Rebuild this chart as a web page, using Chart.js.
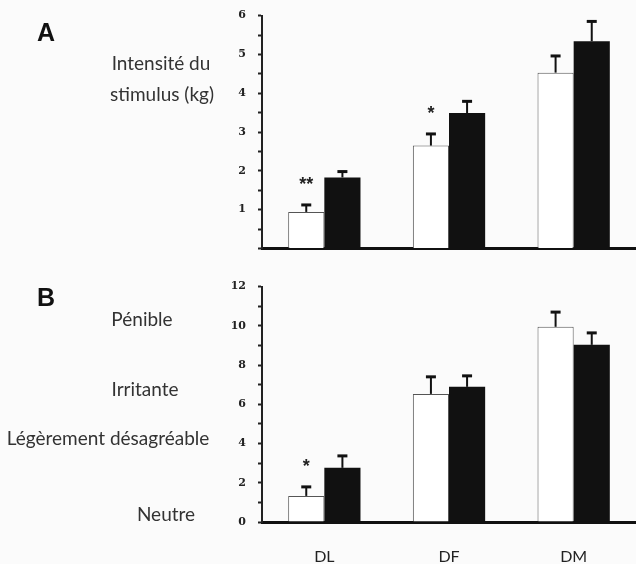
<!DOCTYPE html>
<html>
<head>
<meta charset="utf-8">
<script src="https://cdn.jsdelivr.net/npm/chart.js@4"></script>
<style>
  body { margin: 0; background: #fbfbfb; }
  #wrap { position: relative; width: 636px; height: 564px; background: #fbfbfb; overflow: hidden; }
  .box { position: absolute; left: 0; width: 636px; }
  .lbl { position: absolute; transform: translate(-50%, -50%); font-family: Lato, "Open Sans", sans-serif; font-size: 19px; color: #333; white-space: nowrap; line-height: 1; }
  .panel { position: absolute; transform: translate(-50%, -50%); font-family: "Liberation Sans", Arial, sans-serif; font-weight: bold; font-size: 25px; color: #111; line-height: 1; }
</style>
</head>
<body>
<div id="wrap">
  <div class="box" style="top:-3px;height:270px"><canvas id="chartA"></canvas></div>
  <div class="box" style="top:268px;height:296px"><canvas id="chartB"></canvas></div>

  <div class="panel" style="left:46px;top:32px">A</div>
  <div class="lbl" style="left:161px;top:62px">Intensité du</div>
  <div class="lbl" style="left:162px;top:93px">stimulus (kg)</div>

  <div class="panel" style="left:46px;top:297px">B</div>
  <div class="lbl" style="left:142px;top:318px">Pénible</div>
  <div class="lbl" style="left:145px;top:388px">Irritante</div>
  <div class="lbl" style="left:108px;top:437px">Légèrement désagréable</div>
  <div class="lbl" style="left:166px;top:513px">Neutre</div>
</div>
<script>
// categories
var categories = ['DL', 'DF', 'DM'];

// A : intensité du stimulus (kg)
var intensiteBlanc = [0.94, 2.65, 4.53];
var intensiteBlancErr = [0.18, 0.30, 0.43];
var intensiteNoir = [1.83, 3.49, 5.34];
var intensiteNoirErr = [0.15, 0.30, 0.51];
var signifA = ['**', '*', ''];

// B : évaluation de la douleur
var douleurBlanc = [1.33, 6.53, 9.95];
var douleurBlancErr = [0.46, 0.87, 0.75];
var douleurNoir = [2.76, 6.89, 9.03];
var douleurNoirErr = [0.61, 0.56, 0.61];
var signifB = ['*', '', ''];

var ticksA = { max: 6, step: 0.5 };
var ticksB = { max: 12, step: 1 };

// barres d'erreur + astérisques
var errorBars = {
    id: 'errorBars',
    afterDatasetsDraw: function(chart) {
        var ctx = chart.ctx;
        var y = chart.scales.y;
        chart.data.datasets.forEach(function(ds, i) {
            var meta = chart.getDatasetMeta(i);
            meta.data.forEach(function(bar, j) {
                var top = y.getPixelForValue(ds.data[j] + ds.errors[j]);
                ctx.save();
                ctx.strokeStyle = '#111';
                ctx.lineWidth = 2;
                ctx.beginPath();
                ctx.moveTo(bar.x, bar.y);
                ctx.lineTo(bar.x, top);
                ctx.stroke();
                ctx.lineWidth = 3;
                ctx.beginPath();
                ctx.moveTo(bar.x - 5, top);
                ctx.lineTo(bar.x + 5, top);
                ctx.stroke();
                if (ds.stars && ds.stars[j]) {
                    ctx.fillStyle = '#222';
                    ctx.font = 'bold 18px "Liberation Sans", Arial';
                    ctx.textAlign = 'center';
                    ctx.textBaseline = 'middle';
                    ctx.fillText(ds.stars[j], bar.x, top - 20);
                }
                ctx.restore();
            });
        });
    }
};

function makeChart(id, blanc, blancErr, noir, noirErr, stars, tk, showX) {
    var ctx = document.getElementById(id).getContext('2d');
    return new Chart(ctx, {
        type: 'bar',
        data: {
            labels: categories,
            datasets: [{
                data: blanc,
                errors: blancErr,
                stars: stars,
                backgroundColor: '#ffffff',
                borderColor: '#555',
                borderWidth: 1,
                categoryPercentage: 0.58,
                barPercentage: 1
            }, {
                data: noir,
                errors: noirErr,
                backgroundColor: '#111111',
                borderColor: '#111111',
                borderWidth: 0,
                categoryPercentage: 0.58,
                barPercentage: 1
            }]
        },
        options: {
            responsive: true,
            maintainAspectRatio: false,
            animation: false,
            layout: { padding: { top: showX ? 15 : 12, right: 0, left: 0, bottom: 0 } },
            plugins: { legend: { display: false }, tooltip: { enabled: false } },
            scales: {
                x: {
                    grid: { display: true, drawOnChartArea: false, drawTicks: false },
                    border: { display: true, color: '#111', width: 3 },
                    ticks: {
                        display: showX,
                        padding: 25,
                        color: '#222',
                        font: { family: 'Lato', size: 16 }
                    },
                    afterFit: function(scale) { scale.height = showX ? 42 : 16; }
                },
                y: {
                    min: 0,
                    max: tk.max,
                    grid: { drawOnChartArea: false, drawTicks: true, tickLength: 4, tickWidth: 2, tickColor: '#222' },
                    border: { display: true, color: '#222', width: 2 },
                    ticks: {
                        stepSize: tk.step,
                        autoSkip: false,
                        padding: 12,
                        color: '#222',
                        font: { family: 'DejaVu Serif', size: 11, weight: 'bold' },
                        callback: function(v) {
                            if (showX) return v % 2 === 0 ? v : '';
                            return (Number.isInteger(v) && v > 0) ? v : '';
                        }
                    },
                    afterFit: function(scale) { scale.width = 262; }
                }
            }
        },
        plugins: [errorBars]
    });
}

makeChart('chartA', intensiteBlanc, intensiteBlancErr, intensiteNoir, intensiteNoirErr, signifA, ticksA, false);
makeChart('chartB', douleurBlanc, douleurBlancErr, douleurNoir, douleurNoirErr, signifB, ticksB, true);
</script>
</body>
</html>
